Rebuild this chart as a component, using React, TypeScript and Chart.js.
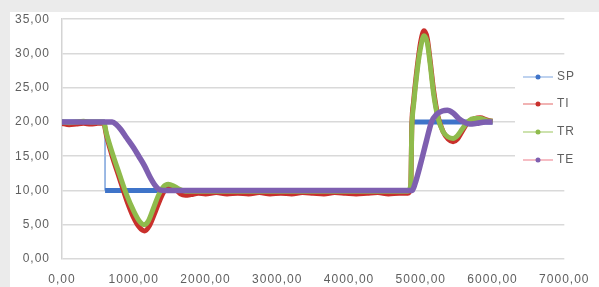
import React, { useEffect, useRef } from 'react';
import { Chart, registerables } from 'chart.js';
Chart.register(...registerables);

// ---- data ----
const spX = [0, 600, 600, 4850, 4850, 6000];
const spY = [20, 20, 10, 10, 20, 20];

const tiX = [0, 100, 200, 300, 400, 500, 580, 620, 700, 800, 900, 1000, 1080, 1150, 1220, 1300, 1380, 1450, 1510, 1580, 1650, 1720, 1800, 1900, 2000, 2150, 2300, 2450, 2600, 2750, 2900, 3050, 3200, 3350, 3500, 3650, 3800, 3950, 4100, 4250, 4400, 4550, 4700, 4820, 4860, 4875, 4900, 4950, 5000, 5045, 5090, 5130, 5180, 5240, 5310, 5380, 5450, 5510, 5580, 5660, 5750, 5830, 5920, 6000];
const tiY = [19.8, 19.6, 19.7, 19.8, 19.7, 19.8, 19.8, 18.0, 15.0, 11.8, 8.6, 6.0, 4.6, 4.1, 4.9, 6.9, 9.0, 10.3, 10.6, 10.2, 9.5, 9.3, 9.4, 9.6, 9.5, 9.7, 9.5, 9.6, 9.5, 9.7, 9.5, 9.6, 9.5, 9.7, 9.6, 9.5, 9.7, 9.6, 9.5, 9.6, 9.7, 9.5, 9.6, 9.6, 10.5, 19.5, 23.0, 28.0, 31.8, 33.3, 32.2, 29.0, 24.5, 20.8, 18.6, 17.5, 17.1, 17.5, 18.7, 20.0, 20.5, 20.6, 20.3, 20.1];

const trX = [0, 100, 200, 300, 400, 500, 580, 620, 700, 800, 900, 1000, 1080, 1140, 1200, 1270, 1340, 1410, 1480, 1550, 1630, 1720, 1850, 2000, 2500, 3000, 3500, 4000, 4500, 4820, 4860, 4875, 4900, 4950, 5000, 5045, 5090, 5130, 5180, 5240, 5310, 5380, 5450, 5510, 5580, 5660, 5750, 5830, 5920, 6000];
const trY = [20.0, 19.9, 20.0, 20.1, 20.0, 20.0, 20.0, 18.3, 15.5, 12.4, 9.4, 7.0, 5.5, 5.0, 5.5, 7.3, 9.2, 10.5, 10.9, 10.7, 10.2, 9.9, 9.9, 9.9, 9.9, 9.9, 9.9, 9.9, 9.9, 9.9, 10.8, 19.0, 22.5, 27.5, 31.0, 32.6, 31.6, 28.5, 24.0, 20.6, 18.6, 17.8, 17.6, 18.0, 19.0, 20.1, 20.5, 20.5, 20.2, 20.1];

const teX = [0, 300, 600, 700, 760, 820, 900, 1000, 1070, 1150, 1230, 1300, 1360, 1450, 2000, 3000, 4000, 4880, 4920, 5000, 5080, 5150, 5220, 5300, 5370, 5450, 5530, 5600, 5680, 5780, 5900, 6000];
const teY = [20.0, 20.0, 20.0, 20.0, 19.6, 18.9, 17.7, 16.2, 15.0, 13.6, 11.9, 10.7, 10.1, 10.0, 10.0, 10.0, 10.0, 10.0, 11.0, 14.0, 17.3, 20.0, 21.1, 21.6, 21.7, 21.3, 20.5, 20.0, 19.7, 19.8, 20.0, 20.0];

const seriesNames = ['SP', 'TI', 'TR', 'TE'];
const lineColors = ['#3f74c9', '#c9302c', '#8fbb4c', '#7e5fb0'];
const legendLineColors = ['#a9c3ea', '#ec9a9a', '#bcd893', '#f3a7b0'];

const xMin = 0, xMax = 7000, xStep = 1000;
const yMin = 0, yMax = 35, yStep = 5;

const fmt = (v: number) => Number(v).toFixed(2).replace('.', ',');
const pts = (xs: number[], ys: number[]) => xs.map((x, i) => ({ x, y: ys[i] }));

const FONT = { family: '"Liberation Sans", Arial, sans-serif', size: 12 };
const TEXT = '#5f5f5f';

export default function App() {
  const ref = useRef<HTMLCanvasElement | null>(null);
  useEffect(() => {
    document.body.style.margin = '0';
    const canvas = ref.current!;
    const bg = {
      id: 'bg',
      beforeDraw(chart: any) {
        const c = chart.ctx;
        c.save();
        c.fillStyle = '#ebebeb';
        c.fillRect(0, 0, chart.width, chart.height);
        c.fillStyle = '#ffffff';
        c.fillRect(10, 12, chart.width - 10, chart.height - 12);
        c.restore();
        (c as any).letterSpacing = '1px';
      },
    };
    const legend = {
      id: 'xlLegend',
      afterDraw(chart: any) {
        const c = chart.ctx;
        c.save();
        c.fillStyle = '#ffffff';
        c.fillRect(515, 62, 62, 112);
        const ys = [77, 104, 132, 160];
        seriesNames.forEach((n, i) => {
          const y = ys[i];
          c.strokeStyle = legendLineColors[i];
          c.lineWidth = 1.5;
          c.beginPath();
          c.moveTo(523, y);
          c.lineTo(553, y);
          c.stroke();
          c.fillStyle = lineColors[i];
          c.beginPath();
          c.arc(538, y, 2.5, 0, Math.PI * 2);
          c.fill();
          c.fillStyle = TEXT;
          c.font = `${FONT.size}px ${FONT.family}`;
          c.textAlign = 'left';
          c.textBaseline = 'middle';
          c.fillText(n, 557, y);
        });
        c.restore();
      },
    };
    const common = { showLine: true, pointRadius: 0, borderWidth: 5, cubicInterpolationMode: 'monotone' as const };
    const chart = new Chart(canvas, {
      type: 'scatter',
      data: {
        datasets: [
          { label: 'TE', data: pts(teX, teY), ...common, borderColor: lineColors[3], borderWidth: 5.5, order: 1 },
          { label: 'TR', data: pts(trX, trY), ...common, borderColor: lineColors[2], order: 2 },
          { label: 'TI', data: pts(tiX, tiY), ...common, borderColor: lineColors[1], order: 3 },
          {
            label: 'SP', data: pts(spX, spY), showLine: true, pointRadius: 0, borderColor: lineColors[0], borderWidth: 5, order: 4,
            segment: {
              borderWidth: (ctx: any) => (ctx.p0.parsed.y !== ctx.p1.parsed.y ? 1 : 5),
              borderColor: (ctx: any) => (ctx.p0.parsed.y !== ctx.p1.parsed.y ? '#8fb0e0' : lineColors[0]),
            },
          } as any,
        ],
      },
      options: {
        animation: false,
        responsive: false,
        devicePixelRatio: 1,
        layout: { padding: { top: 17, right: 26, left: 0, bottom: 0 } },
        plugins: { legend: { display: false }, tooltip: { enabled: false } },
        scales: {
          x: {
            type: 'linear', min: xMin, max: xMax,
            ticks: { stepSize: xStep, callback: (v: any) => fmt(v), font: FONT, color: TEXT, padding: 13, maxRotation: 0 },
            grid: { display: false, drawTicks: false },
            border: { display: false },
            afterFit: (s: any) => { s.height = 28; },
          },
          y: {
            min: yMin, max: yMax,
            ticks: { stepSize: yStep, callback: (v: any) => fmt(v), font: FONT, color: TEXT, padding: 12 },
            grid: { color: '#d9d9d9', lineWidth: 1.5, drawTicks: false },
            border: { display: true, color: '#d4d4d4', width: 1.5 },
            afterFit: (s: any) => { s.width = 62; },
          },
        },
      },
      plugins: [bg, legend],
    });
    return () => chart.destroy();
  }, []);
  return (
    <div style={{ position: 'absolute', left: 0, top: 0, width: 599, height: 287 }}>
      <canvas ref={ref} width={599} height={287} style={{ display: 'block', width: 599, height: 287 }} />
    </div>
  );
}
